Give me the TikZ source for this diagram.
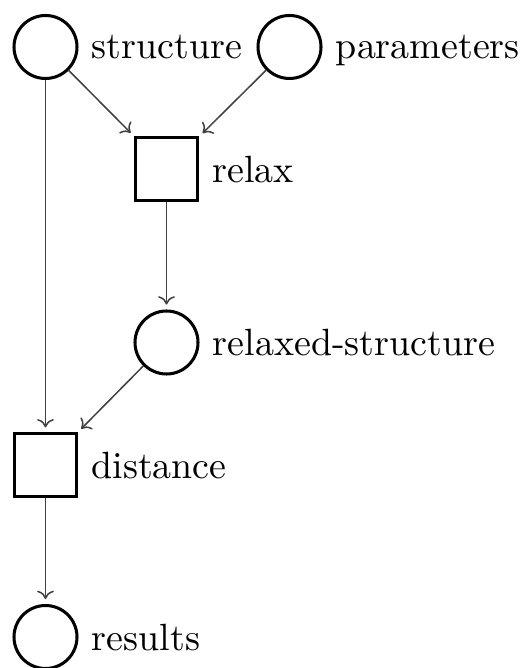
\documentclass[tikz,border=0pt]{standalone}
\usetikzlibrary{arrows.meta}
\begin{document}
\begin{tikzpicture}[x=0.2635pt, y=-0.2635pt,
  place/.style={circle, draw, line width=0.8pt, minimum size=16.6pt, inner sep=0pt},
  trans/.style={rectangle, draw, line width=0.8pt, minimum size=16.4pt, inner sep=0pt},
  tag/.style={text depth=0pt, inner sep=3.33pt},
  flow/.style={-{To[length=2.2pt,width=4.4pt]}, line width=0.4pt, draw=black!75, shorten >=1.3pt}]
  \useasboundingbox (0,0) rectangle (525,668);
  % places and transitions
  \node[place, label={[tag]right:structure}] (structure) at (45.5,47) {};
  \node[place, label={[tag]right:parameters}] (parameters) at (289.5,47) {};
  \node[trans, label={[tag]right:relax}] (relax) at (166.5,169) {};
  \node[place, label={[tag]right:relaxed-structure}] (relaxed) at (166.5,342.5) {};
  \node[trans, label={[tag]right:distance}] (distance) at (45.5,465) {};
  \node[place, label={[tag]right:results}] (results) at (45.5,637) {};
  % arcs
  \draw[flow] (structure) -- (relax);
  \draw[flow] (parameters) -- (relax);
  \draw[flow] (relax) -- (relaxed);
  \draw[flow] (structure) -- (distance);
  \draw[flow] (relaxed) -- (distance);
  \draw[flow] (distance) -- (results);
\end{tikzpicture}
\end{document}
